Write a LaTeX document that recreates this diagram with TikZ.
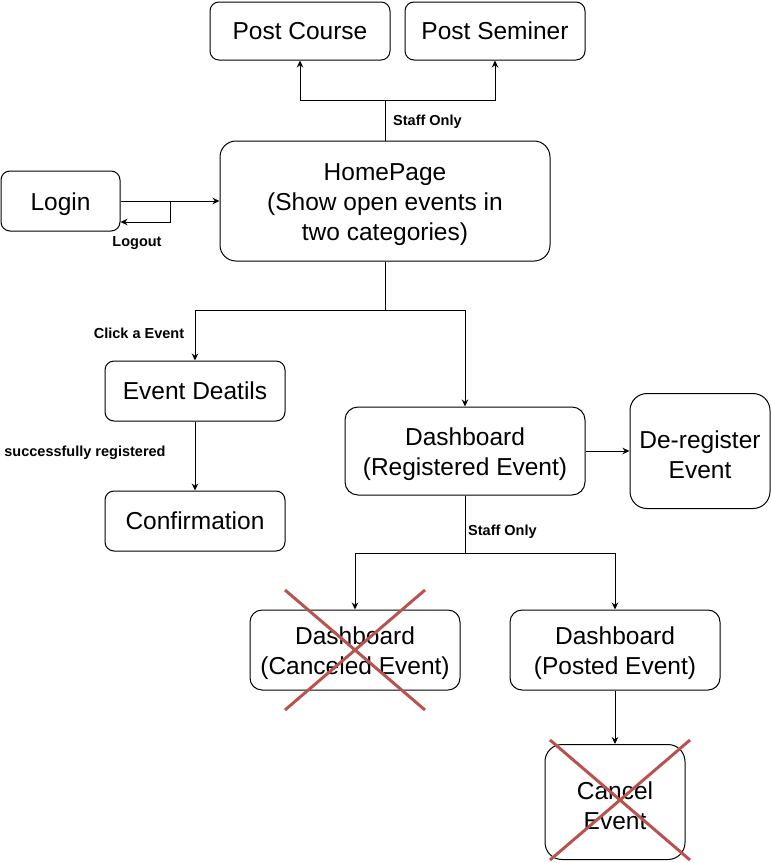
\documentclass[tikz,border=0pt]{standalone}
\usepackage{fontspec}
\setmainfont{Liberation Sans}
\usepackage{xcolor}
\usetikzlibrary{arrows.meta}

\definecolor{crossred}{HTML}{B85450}
\newcommand{\firstline}{\rule{0pt}{25pt}}

\tikzset{
    box/.style={draw, rounded corners=9pt, line width=1pt, align=center,
        font=\fontsize{24.5}{30}\selectfont, inner sep=0pt},
    arr/.style={-{Stealth[length=7pt,width=6.5pt]}, line width=1pt},
    lbl/.style={font=\fontsize{14.5}{16}\selectfont\bfseries, inner sep=0pt},
    cross/.style={crossred, line width=3pt}
}

\begin{document}
\begin{tikzpicture}[x=1pt,y=-1pt]
    \useasboundingbox (0,0) rectangle (771,863);

    \node[box, minimum width=180pt, minimum height=58pt] (pcourse) at (300,31) {Post Course};
    \node[box, minimum width=180pt, minimum height=58pt] (pseminer) at (495,31) {Post Seminer};
    \node[box, minimum width=330pt, minimum height=120pt, rounded corners=16pt] (home) at (385,201)
        {\firstline HomePage\\(Show open events in\\two categories)};
    \node[box, minimum width=119pt, minimum height=60pt] (login) at (60.5,201) {\rule{0pt}{24pt}Login};
    \node[box, minimum width=180pt, minimum height=60pt] (details) at (195,391) {Event Deatils};
    \node[box, minimum width=180pt, minimum height=60pt] (confirm) at (195,521) {Confirmation};
    \node[box, minimum width=240pt, minimum height=88pt, rounded corners=13pt] (dreg) at (465,451)
        {\firstline Dashboard\\(Registered Event)};
    \node[box, minimum width=140pt, minimum height=115pt, rounded corners=17pt] (dereg) at (700,451)
        {\firstline De-register\\Event};
    \node[box, minimum width=210pt, minimum height=80pt, rounded corners=12pt] (canc) at (355,650)
        {\firstline Dashboard\\(Canceled Event)};
    \node[box, minimum width=210pt, minimum height=80pt, rounded corners=12pt] (posted) at (615,650)
        {\firstline Dashboard\\(Posted Event)};
    \node[box, minimum width=140pt, minimum height=115pt, rounded corners=17pt] (cancel) at (615,802)
        {\firstline Cancel\\Event};

    % staff posting
    \coordinate (topsplit) at (385,100);
    \draw[line width=1pt] (home.north) -- (topsplit);
    \draw[arr] (topsplit) -| (pcourse);
    \draw[arr] (topsplit) -| (pseminer);
    \node[lbl, anchor=west] at (393,122) {Staff Only};

    % login / logout
    \coordinate (logoutpt) at (170,201);
    \draw[arr] (login.east) -- (home.west);
    \draw[arr] (logoutpt) |- ([yshift=-21pt]login.east);
    \node[lbl] at (137,243) {Logout};

    % from homepage
    \coordinate (midsplit) at (385,310);
    \draw[line width=1pt] (home.south) -- (midsplit);
    \draw[arr] (midsplit) -| (details);
    \draw[arr] (midsplit) -| (dreg);
    \node[lbl] at (139,333) {Click a Event};

    \draw[arr] (details) -- (confirm);
    \node[lbl] at (85,453) {successfully registered};

    \draw[arr] (dreg) -- (dereg);

    \coordinate (lowsplit) at (465,553);
    \draw[line width=1pt] (dreg.south) -- (lowsplit);
    \draw[arr] (lowsplit) -| (canc);
    \draw[arr] (lowsplit) -| (posted);
    \node[lbl, anchor=west] at (468,532) {Staff Only};

    \draw[arr] (posted) -- (cancel);

    % crossed out
    \draw[cross] (285,590) -- (425,710);
    \draw[cross] (425,590) -- (285,710);
    \draw[cross] (550,740) -- (690,860);
    \draw[cross] (690,740) -- (550,860);
\end{tikzpicture}
\end{document}
